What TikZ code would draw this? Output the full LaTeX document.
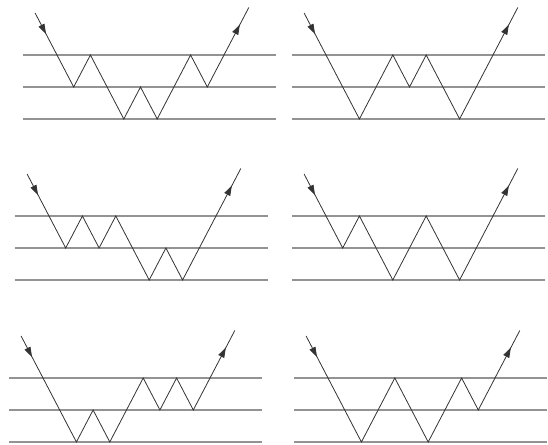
\documentclass[tikz,border=0pt]{standalone}
\usepackage{tikz}
\usetikzlibrary{arrows.meta,decorations.markings}

\tikzset{
  layer/.style={draw=gray!85,line width=1.4pt},
  ray/.style={draw=black!80,line width=0.8pt},
  inarrow/.style={postaction={decorate},decoration={markings,
    mark=at position 0.5 with {\arrow{Triangle[length=10pt,width=6.5pt]}}}},
  outarrow/.style={postaction={decorate},decoration={markings,
    mark=at position 0.64 with {\arrow{Triangle[length=10pt,width=6.5pt]}}}}}

% #1 left end of the layers, #2 top layer, #3 levels touched by the ray
\newcommand{\bouncepanel}[3]{%
  \begin{scope}[shift={(#1,#2)}]
    \foreach \k in {0,1,2} \draw[layer] (0,\k*32) -- (253,\k*32);
    \coordinate (in) at (12.1,-42);
    \coordinate (c0) at (34,0);
    \xdef\zx{34}\xdef\zl{0}
    \foreach \lv [count=\i] in {#3,0} {
      \pgfmathsetmacro\nx{\zx+abs(\lv-\zl)*16.7}
      \coordinate (c\i) at (\nx,\lv*32);
      \xdef\zx{\nx}\xdef\zl{\lv}\xdef\zn{\i}
    }
    \coordinate (out) at (\zx+24.8,-47.5);
    \draw[ray,inarrow] (in) -- (c0);
    \draw[ray,line join=miter] (c0) \foreach \i in {1,...,\zn} { -- (c\i) };
    \draw[ray,outarrow] (c\zn) -- (out);
  \end{scope}}

\begin{document}
\begin{tikzpicture}[x=1pt,y=-1pt]
\useasboundingbox (0,0) rectangle (548,444);
\bouncepanel{23}{55}{1,0,2,1,2,0,1}
\bouncepanel{292}{55}{2,0,1,0,2}
\bouncepanel{15}{216}{1,0,1,0,2,1,2}
\bouncepanel{292}{216}{1,0,2,0,2}
\bouncepanel{9}{378}{2,1,2,0,1,0,1}
\bouncepanel{294}{378}{2,0,2,0,1}
\end{tikzpicture}
\end{document}
